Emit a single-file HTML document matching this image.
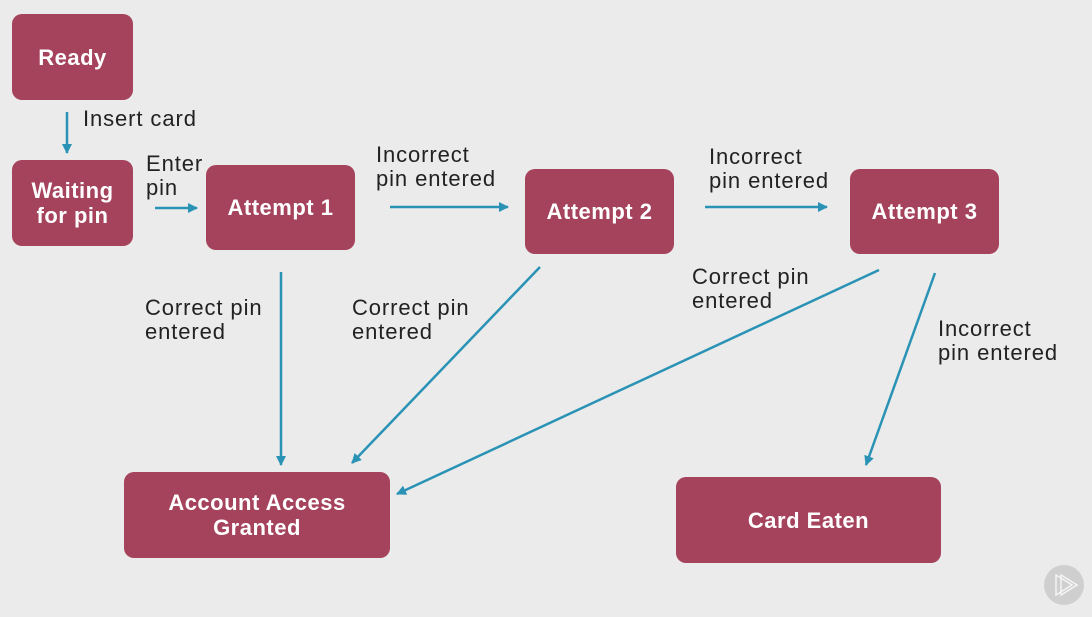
<!DOCTYPE html>
<html><head><style>
body{margin:0;width:1092px;height:617px;background:#ebebeb;position:relative;overflow:hidden;font-family:"Liberation Sans",sans-serif}
.b{position:absolute;background:#a5425c;border-radius:10px;color:#fff;font-weight:bold;font-size:22px;letter-spacing:0.5px;display:flex;align-items:center;justify-content:center;text-align:center;line-height:25px}
.t{position:absolute;color:#222;font-size:22px;letter-spacing:0.9px;line-height:24px}
</style></head><body>
<div class="b" style="left:12px;top:14px;width:121px;height:86px">Ready</div>
<div class="b" style="left:12px;top:160px;width:121px;height:86px">Waiting<br>for pin</div>
<div class="b" style="left:206px;top:165px;width:149px;height:85px">Attempt 1</div>
<div class="b" style="left:525px;top:169px;width:149px;height:85px">Attempt 2</div>
<div class="b" style="left:850px;top:169px;width:149px;height:85px">Attempt 3</div>
<div class="b" style="left:124px;top:472px;width:266px;height:86px">Account Access<br>Granted</div>
<div class="b" style="left:676px;top:477px;width:265px;height:86px">Card Eaten</div>
<div class="t" style="left:83px;top:107px">Insert card</div>
<div class="t" style="left:146px;top:152px">Enter<br>pin</div>
<div class="t" style="left:376px;top:143px">Incorrect<br>pin entered</div>
<div class="t" style="left:709px;top:145px">Incorrect<br>pin entered</div>
<div class="t" style="left:145px;top:296px">Correct pin<br>entered</div>
<div class="t" style="left:352px;top:296px">Correct pin<br>entered</div>
<div class="t" style="left:692px;top:265px">Correct pin<br>entered</div>
<div class="t" style="left:938px;top:317px">Incorrect<br>pin entered</div>
<svg width="1092" height="617" style="position:absolute;left:0;top:0">
<defs><marker id="a" markerWidth="10" markerHeight="10" refX="9" refY="5" orient="auto" markerUnits="userSpaceOnUse"><path d="M0,0L10,5L0,10z" fill="#2a93b5"/></marker></defs>
<g stroke="#2a93b5" stroke-width="2.5" marker-end="url(#a)">
<line x1="67" y1="112" x2="67" y2="153"/>
<line x1="155" y1="208" x2="197" y2="208"/>
<line x1="390" y1="207" x2="508" y2="207"/>
<line x1="705" y1="207" x2="827" y2="207"/>
<line x1="281" y1="272" x2="281" y2="465"/>
<line x1="540" y1="267" x2="352" y2="463"/>
<line x1="879" y1="270" x2="397" y2="494"/>
<line x1="935" y1="273" x2="866" y2="465"/>
</g>
<circle cx="1064" cy="585" r="20" fill="#cfcfcf"/>
<path d="M1056,575L1072,585L1056,595z M1061,575L1077,585L1061,595z" fill="none" stroke="#f4f4f4" stroke-width="1.5"/>
</svg>
</body></html>
